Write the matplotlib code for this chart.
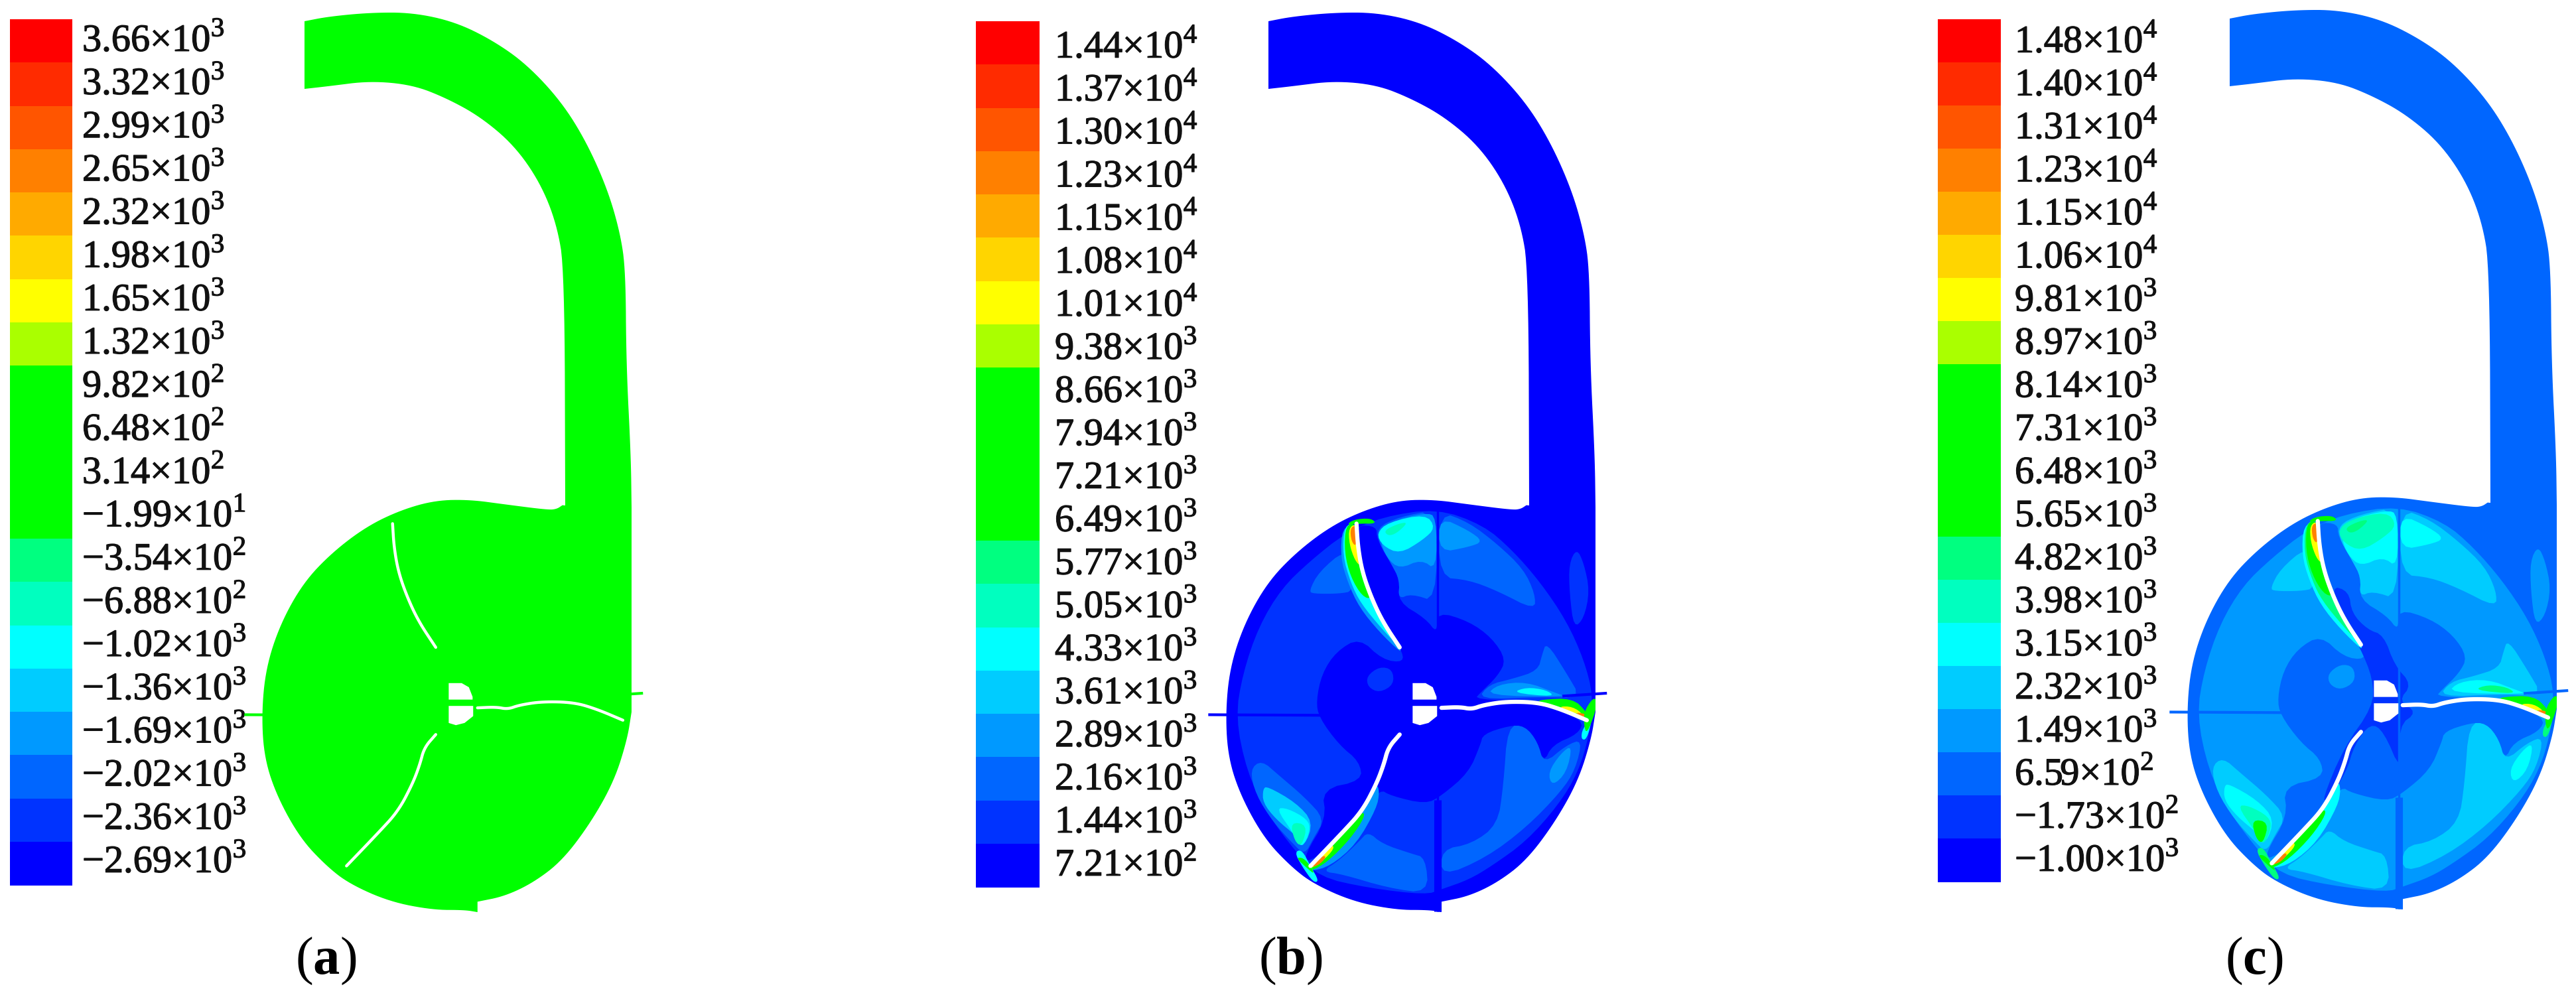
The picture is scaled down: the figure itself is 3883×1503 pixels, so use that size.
import matplotlib
matplotlib.use("Agg")
import matplotlib.pyplot as plt
import matplotlib.patheffects as pe
from matplotlib.patches import Polygon, Rectangle

plt.rcParams["font.family"] = ["Liberation Serif", "DejaVu Serif"]
plt.rcParams["mathtext.fontset"] = "custom"
plt.rcParams["mathtext.rm"] = "Liberation Serif"
plt.rcParams["mathtext.bf"] = "Liberation Serif:bold"

# contour colours, lowest level first
colors = ["#0000ff", "#0033ff", "#0066ff", "#0099ff", "#00ccff", "#00ffff", "#00ffbf", "#00ff80",
          "#00ff00", "#00ff00", "#00ff00", "#00ff00", "#aaff00", "#ffff00", "#ffd500", "#ffaa00",
          "#ff8000", "#ff5500", "#ff2b00", "#ff0000"]

# labels, top of the bar first: mantissa, exponent
labels_a = ["3.66", "3.32", "2.99", "2.65", "2.32", "1.98", "1.65", "1.32", "9.82", "6.48", "3.14",
            "\u22121.99", "\u22123.54", "\u22126.88", "\u22121.02", "\u22121.36", "\u22121.69", "\u22122.02",
            "\u22122.36", "\u22122.69"]
exps_a = [3, 3, 3, 3, 3, 3, 3, 3, 2, 2, 2, 1, 2, 2, 3, 3, 3, 3, 3, 3]
labels_b = ["1.44", "1.37", "1.30", "1.23", "1.15", "1.08", "1.01", "9.38", "8.66", "7.94", "7.21",
            "6.49", "5.77", "5.05", "4.33", "3.61", "2.89", "2.16", "1.44", "7.21"]
exps_b = [4, 4, 4, 4, 4, 4, 4, 3, 3, 3, 3, 3, 3, 3, 3, 3, 3, 3, 3, 2]
labels_c = ["1.48", "1.40", "1.31", "1.23", "1.15", "1.06", "9.81", "8.97", "8.14", "7.31", "6.48",
            "5.65", "4.82", "3.98", "3.15", "2.32", "1.49", "6.59", "\u22121.73", "\u22121.00"]
exps_c = [4, 4, 4, 4, 4, 4, 3, 3, 3, 3, 3, 3, 3, 3, 3, 3, 3, 2, 2, 3]

# casing outline
duct_outer = [(1912, 32), (1948, 25), (2011, 19), (2075, 19), (2139, 33), (2196, 61), (2247, 97), (2299, 153),
              (2337, 214), (2369, 286), (2388, 352), (2396, 408), (2397, 548), (2404, 688), (2405, 765)]
duct_inner = [(2305, 762), (2304, 408), (2292, 337), (2267, 275), (2228, 219), (2177, 176), (2126, 148),
              (2075, 128), (2011, 122), (1948, 130), (1912, 134)]
body_right = [(1440, 780), (1425, 880), (1380, 1030), (1300, 1180), (1200, 1320), (1100, 1400), (1000, 1450), (905, 1470)]
body_left = [(905, 1508), (860, 1500), (750, 1500), (600, 1470), (460, 1405), (380, 1340), (290, 1240), (210, 1090),
             (165, 950), (155, 790), (170, 620), (220, 460), (300, 310), (400, 200), (520, 105), (640, 45), (760, 10),
             (880, 8), (1000, 25), (1150, 45), (1180, 42), (1200, 28)]

blade1 = [(610, 95), (615, 180), (630, 270), (660, 360), (700, 450), (760, 545)]
blade2 = [(905, 765), (970, 762), (1010, 770), (1050, 755), (1130, 742), (1240, 745), (1320, 770), (1410, 810)]
blade3 = [(760, 862), (720, 910), (705, 970), (680, 1040), (630, 1140), (560, 1220), (450, 1340)]
hub_top = [(805, 675), (850, 675), (875, 690), (888, 725), (888, 735), (805, 735)]
hub_low = [(805, 758), (890, 758), (890, 795), (860, 820), (830, 828), (805, 820)]

# contour regions, painted in order: level in (b), level in (c), outline
regions = [
    (1, 3, [(190, 800), (215, 640), (270, 470), (350, 330), (450, 230), (570, 130), (700, 70), (890, 40), (1050, 100),
            (1150, 190), (1250, 310), (1340, 450), (1400, 590), (1432, 720), (1420, 860), (1380, 1000), (1310, 1120),
            (1200, 1250), (1080, 1340), (1000, 1390), (905, 1425), (850, 1445), (650, 1420), (480, 1380), (400, 1290),
            (300, 1150), (230, 1000)]),
    # centre and the wedges behind the blades
    (0, 2, [(620, 510), (700, 590), (775, 600), (765, 550), (700, 450), (660, 360), (630, 270), (615, 180), (610, 100),
            (680, 105), (680, 150), (730, 240), (760, 300), (755, 380), (850, 440), (890, 495), (890, 415), (1000, 450),
            (1080, 510), (1130, 590), (1100, 650), (1040, 710), (1020, 735), (1250, 740), (1400, 810), (1380, 860),
            (1290, 900), (1260, 965), (1235, 880), (1190, 830), (1140, 830), (1050, 860), (1040, 900), (1000, 1000),
            (905, 1085), (850, 1115), (730, 1085), (690, 1060), (640, 1150), (560, 1240), (440, 1330), (430, 1300),
            (505, 1170), (490, 1060), (630, 1030), (620, 960), (550, 900), (480, 800), (470, 740), (490, 640),
            (540, 560)]),
    (1, 3, [(645, 650), (690, 615), (735, 625), (740, 680), (690, 710), (650, 690)]),
    (None, 1, [(653, 330), (718, 350), (728, 430), (783, 490), (839, 510), (877, 620), (937, 690), (890, 750), (956, 790),
               (890, 840), (900, 1010), (839, 860), (793, 830), (737, 910), (709, 1010), (644, 1110), (625, 1110),
               (700, 920), (802, 770), (802, 670), (755, 550), (709, 480)]),
    # upper left
    (2, 4, [(445, 340), (480, 270), (570, 190), (575, 260), (600, 340), (550, 350), (460, 350)]),
    # top, left of the seam
    (2, 4, [(680, 110), (760, 70), (888, 45), (888, 380), (800, 350), (755, 370), (760, 300), (730, 240), (690, 170)]),
    (3, 5, [(690, 150), (720, 90), (850, 55), (888, 70), (888, 265), (835, 225), (760, 260), (715, 220)]),
    (5, 6, [(680, 130), (720, 90), (850, 60), (885, 110), (840, 155), (760, 205), (700, 175)]),
    (6, 7, [(705, 120), (755, 95), (790, 90), (750, 130), (720, 140)]),
    # top, right of the seam
    (2, 4, [(897, 50), (1000, 90), (1100, 170), (1190, 260), (1230, 350), (1230, 410), (1100, 340), (1000, 300), (897, 290)]),
    (3, 5, [(897, 70), (1000, 120), (1050, 160), (1000, 180), (897, 200)]),
    # duct side oval
    (1, 3, [(1375, 185), (1400, 240), (1420, 340), (1400, 440), (1365, 475), (1350, 350), (1348, 240)]),
    # above blade 2
    (2, 4, [(1270, 525), (1340, 640), (1390, 730), (1250, 725), (1030, 735), (1070, 680), (1150, 660), (1240, 630), (1255, 570)]),
    (3, 5, [(1060, 720), (1100, 680), (1200, 670), (1300, 710), (1340, 725)]),
    (5, 7, [(1150, 710), (1200, 690), (1270, 700), (1300, 725)]),
    # lower right
    (2, 4, [(1135, 830), (1195, 830), (1240, 890), (1260, 970), (1340, 900), (1395, 880), (1370, 990), (1320, 1070), (1200, 1200),
            (1060, 1310), (905, 1380), (905, 1280), (1010, 1260), (1100, 1190), (1120, 1050)]),
    (3, 5, [(1275, 1000), (1320, 930), (1360, 900), (1340, 1000), (1290, 1050)]),
    # lower left
    (2, 4, [(240, 990), (280, 955), (340, 1010), (430, 1090), (500, 1170), (460, 1240), (430, 1300), (390, 1260), (320, 1180), (260, 1080)]),
    (4, 5, [(285, 1060), (300, 1050), (400, 1110), (460, 1180), (430, 1270), (400, 1230), (330, 1170), (285, 1110)]),
    (5, 6, [(330, 1130), (370, 1130), (440, 1170), (450, 1210), (420, 1280), (390, 1220)]),
    (6, 8, [(380, 1180), (440, 1190), (420, 1270), (395, 1250)]),
    # lower middle
    (2, 4, [(650, 1215), (700, 1260), (800, 1295), (850, 1310), (860, 1440), (720, 1420), (560, 1370), (490, 1360), (550, 1320), (620, 1250)]),
    # blade 1 pressure band
    (3, 5, [(560, 110), (555, 220), (580, 310), (620, 400), (690, 490), (765, 565), (760, 545), (700, 450), (660, 360), (630, 270), (615, 180), (610, 95)]),
    (5, 7, [(568, 100), (562, 210), (590, 310), (625, 385), (700, 480), (755, 540), (700, 450), (660, 360), (630, 270), (615, 180), (610, 95)]),
    (8, 8, [(572, 100), (568, 200), (590, 290), (630, 360), (665, 370), (630, 270), (615, 180), (610, 95)]),
    (8, 8, [(575, 100), (600, 80), (660, 75), (680, 95), (620, 95)]),
    (13, 13, [(583, 110), (585, 170), (605, 230), (625, 250), (615, 180), (610, 95)]),
    (16, 16, [(588, 110), (592, 160), (610, 180), (612, 100)]),
    # blade 3 band
    (3, 5, [(450, 1360), (520, 1340), (610, 1260), (680, 1130), (690, 1070), (680, 1040), (630, 1140), (560, 1220), (450, 1340)]),
    (8, 8, [(450, 1360), (510, 1325), (590, 1240), (640, 1160), (630, 1140), (560, 1220), (450, 1340)]),
    (13, 13, [(450, 1350), (490, 1325), (535, 1275), (520, 1260), (450, 1340)]),
    (16, 16, [(445, 1345), (475, 1340), (505, 1310), (495, 1300)]),
    (5, 7, [(395, 1290), (420, 1280), (450, 1340), (480, 1395), (460, 1400), (420, 1340)]),
    (8, 8, [(400, 1310), (425, 1310), (450, 1340), (465, 1370), (440, 1350)]),
    # blade 2 band and tip
    (8, 8, [(1250, 735), (1360, 730), (1410, 780), (1410, 810), (1320, 770), (1240, 745)]),
    (13, 13, [(1310, 760), (1360, 760), (1400, 790), (1350, 780)]),
    (16, 16, [(1370, 780), (1415, 790), (1410, 810), (1385, 800)]),
    (5, 7, [(1395, 840), (1430, 800), (1410, 880), (1390, 880)]),
    (8, 8, [(1400, 780), (1430, 730), (1445, 735), (1440, 780), (1410, 860), (1400, 830)]),
]

# left edge and width of bar, top and bottom of bar, label x, first and last label baseline
bar_a = (15, 94, 29, 1334, 124, 77, 1315)
bar_b = (1471, 96, 32, 1337, 1590, 87, 1320)
bar_c = (2921, 95, 29, 1329, 3037, 79, 1313)


def smooth(pts, n=2):
    # corner cutting so the hand read contours are not so jagged
    for _ in range(n):
        out = []
        for i in range(len(pts)):
            p, q = pts[i], pts[(i + 1) % len(pts)]
            out.append((0.75 * p[0] + 0.25 * q[0], 0.75 * p[1] + 0.25 * q[1]))
            out.append((0.25 * p[0] + 0.75 * q[0], 0.25 * p[1] + 0.75 * q[1]))
        pts = out
    return pts


def smooth_open(pts, n=3):
    # same, but the two end points stay where they are
    for _ in range(n):
        out = [pts[0]]
        for p, q in zip(pts[:-1], pts[1:]):
            out.append((0.75 * p[0] + 0.25 * q[0], 0.75 * p[1] + 0.25 * q[1]))
            out.append((0.25 * p[0] + 0.75 * q[0], 0.25 * p[1] + 0.75 * q[1]))
        out.append(pts[-1])
        pts = out
    return pts


def to_px(pts, dx, dy):
    return [(1780 + 0.434 * x + dx, 750 + 0.4145 * y + dy) for x, y in pts]


def shift(pts, dx, dy):
    return [(x + dx, y + dy) for x, y in pts]


def draw_bar(ax, bar, labels, exps):
    left, width, top, bottom, tx, first, last = bar
    step = (bottom - top) / len(colors)
    for i, c in enumerate(colors[::-1]):
        ax.add_patch(Rectangle((left, top + i * step), width, step + 0.5, fc=c, ec="none"))
    gap = (last - first) / (len(labels) - 1)
    for i, (lab, e) in enumerate(zip(labels, exps)):
        t = ax.text(tx, first + i * gap, lab + "\u00d710$^{%d}$" % e, fontsize=42, color="#111111",
                    va="baseline", ha="left")
        t.set_path_effects([pe.withStroke(linewidth=0.9, foreground="#111111")])


def draw_panel(ax, dx, dy, base, which):
    outline = (shift(smooth_open(duct_outer), dx, dy) + to_px(smooth_open(body_right), dx, dy)
               + to_px(smooth_open(body_left), dx, dy) + shift(smooth_open(duct_inner), dx, dy))
    casing = Polygon(outline, closed=True, fc=colors[base], ec="none", zorder=2)
    ax.add_patch(casing)

    for lev_b, lev_c, pts in regions:
        lev = lev_b if which == "b" else lev_c
        if which == "a" or lev is None:
            continue
        p = Polygon(smooth(to_px(pts, dx, dy)), closed=True, fc=colors[lev], ec="none", zorder=3)
        ax.add_patch(p)
        p.set_clip_path(casing)

    # seam through the impeller and the two small spikes
    if which != "a":
        sc = colors[base]
        ax.plot(*zip(*to_px([(892, 40), (892, 1505)], dx, dy)), color=sc, lw=2.5, zorder=4, solid_capstyle="butt")
        ax.plot(*zip(*to_px([(892, 1100), (892, 1505)], dx, dy)), color=sc, lw=8, zorder=4, solid_capstyle="butt")
    ax.plot(*zip(*to_px([(100, 790), (480, 792)], dx, dy)), color=colors[base], lw=3, zorder=4)
    ax.plot(*zip(*to_px([(1330, 722), (1475, 712)], dx, dy)), color=colors[base], lw=3, zorder=4)

    lw = 3.2 if which == "a" else 4.5
    for blade in (blade1, blade2, blade3):
        ax.plot(*zip(*to_px(smooth_open(blade), dx, dy)), color="white", lw=lw, zorder=5, solid_capstyle="round")
    for hub in (hub_top, hub_low):
        ax.add_patch(Polygon(to_px(hub, dx, dy), closed=True, fc="white", ec="none", zorder=5))


fig = plt.figure(figsize=(38.83, 15.03), dpi=100)
ax = fig.add_axes([0, 0, 1, 1])
ax.set_xlim(0, 3883)
ax.set_ylim(1503, 0)
ax.axis("off")

draw_bar(ax, bar_a, labels_a, exps_a)
draw_bar(ax, bar_b, labels_b, exps_b)
draw_bar(ax, bar_c, labels_c, exps_c)

draw_panel(ax, -1453, 0, 8, "a")
draw_panel(ax, 0, 0, 0, "b")
draw_panel(ax, 1449, -4, 2, "c")

for x, name in [(491, "a"), (1945, "b"), (3398, "c")]:
    ax.text(x, 1468, "($\\mathbf{%s}$)" % name, fontsize=58, ha="center", va="baseline", color="black")

fig.savefig("out.png", dpi=100)
